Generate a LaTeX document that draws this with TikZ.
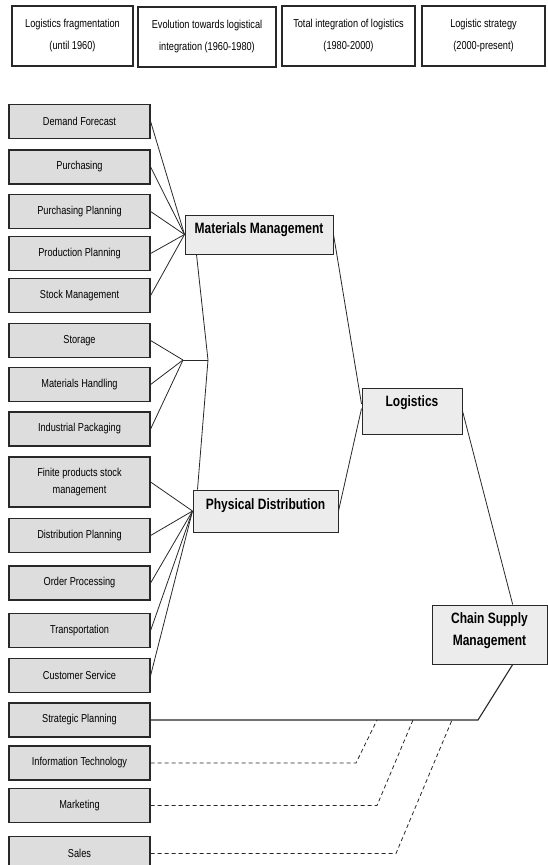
\documentclass[tikz,border=0pt]{standalone}
\usepackage{fontspec}
\setmainfont{Liberation Sans}[FakeStretch=0.8]
\usetikzlibrary{calc}
\definecolor{boxgray}{RGB}{221,221,221}
\definecolor{hubgray}{RGB}{236,236,236}
\definecolor{ink}{RGB}{40,40,40}

\begin{document}
\begin{tikzpicture}[
    x=1pt, y=-1pt,
    era/.style={draw=ink, fill=white, line width=1.2pt, align=center, minimum height=60, inner sep=0pt, font=\fontsize{11.5}{22}\selectfont},
    task/.style={draw=ink, fill=boxgray, line width=1.2pt, minimum width=141, minimum height=34, align=center, inner sep=0pt, font=\fontsize{11.5}{17}\selectfont},
    hub/.style={draw=ink, fill=hubgray, line width=1pt, inner sep=0pt, font=\bfseries\fontsize{15}{22}\selectfont},
    link/.style={draw=ink, line width=0.8pt},
    weak/.style={link, dash pattern=on 4pt off 3pt}
]
\useasboundingbox (0,0) rectangle (547,865);

% periods
\node[era, minimum width=121] (p1) at (72.5,36) {Logistics fragmentation\\(until 1960)};
\node[era, minimum width=138] (p2) at (207,37) {Evolution towards logistical\\integration (1960-1980)};
\node[era, minimum width=133] (p3) at (348.5,36) {Total integration of logistics\\(1980-2000)};
\node[era, minimum width=123] (p4) at (483.5,36) {Logistic strategy\\(2000-present)};

% activities on the left
\foreach \n/\y/\t in {df/121.5/Demand Forecast, pu/167/Purchasing, pp/211.5/Purchasing Planning,
    prp/253.5/Production Planning, sm/295.5/Stock Management, st/340.5/Storage,
    mh/384.5/Materials Handling, ip/429/Industrial Packaging, dp/535.5/Distribution Planning,
    op/583/Order Processing, tr/630.5/Transportation, cs/675.5/Customer Service,
    sp/720/Strategic Planning, it/763/Information Technology, mk/805.5/Marketing, sa/853.5/Sales}
    \node[task] (\n) at (79.5,\y) {\t};
\node[task, minimum height=50] (fp) at (79.5,482) {Finite products stock\\management};

% grouping boxes
\node[hub, minimum width=148, text height=18, text depth=21] (mm) at (259,234.5) {Materials Management};
\node[hub, minimum width=145, text height=19, text depth=23] (pd) at (265.5,511) {Physical Distribution};
\node[hub, minimum width=100, text height=18, text depth=28] (lg) at (412,411) {Logistics};
\node[hub, minimum width=115, align=center, text height=40, text depth=19] (csm) at (489.5,634.5) {Chain Supply\\Management};

\coordinate (sj) at (183,360);
\coordinate (vj) at (208,360);
\coordinate (sb) at (478,720);

\foreach \n in {df,pu,pp,prp,sm}
    \draw[link] (\n.east) -- (mm.west);
\foreach \n in {st,mh,ip}
    \draw[link] (\n.east) -- (sj);
\draw[link] (sj) -- (vj);
\draw[link] ($(mm.south west)+(12,0)$) -- (vj) -- ($(pd.north west)+(5,0)$);
\foreach \n in {fp,dp,op,tr,cs}
    \draw[link] (\n.east) -- (pd.west);

\draw[link] (mm.east) -- ($(lg.north west)!0.35!(lg.south west)$);
\draw[link] (pd.east) -- ($(lg.north west)!0.45!(lg.south west)$);
\draw[link] (lg.east) -- ($(csm.north)!0.4!(csm.north east)$);
\draw[link, line width=1.1pt] ($(csm.south)!0.4!(csm.south east)$) -- (sb) -- (sp.east);

% dashed feeds into the strategic line
\foreach \n/\a/\b in {it/356/377, mk/377/413, sa/396/452} {
    \coordinate (\n j) at (\b,720);
    \draw[weak] (\n.east) -- (\a,0 |- \n.east) -- (\n j);
}
\end{tikzpicture}
\end{document}
